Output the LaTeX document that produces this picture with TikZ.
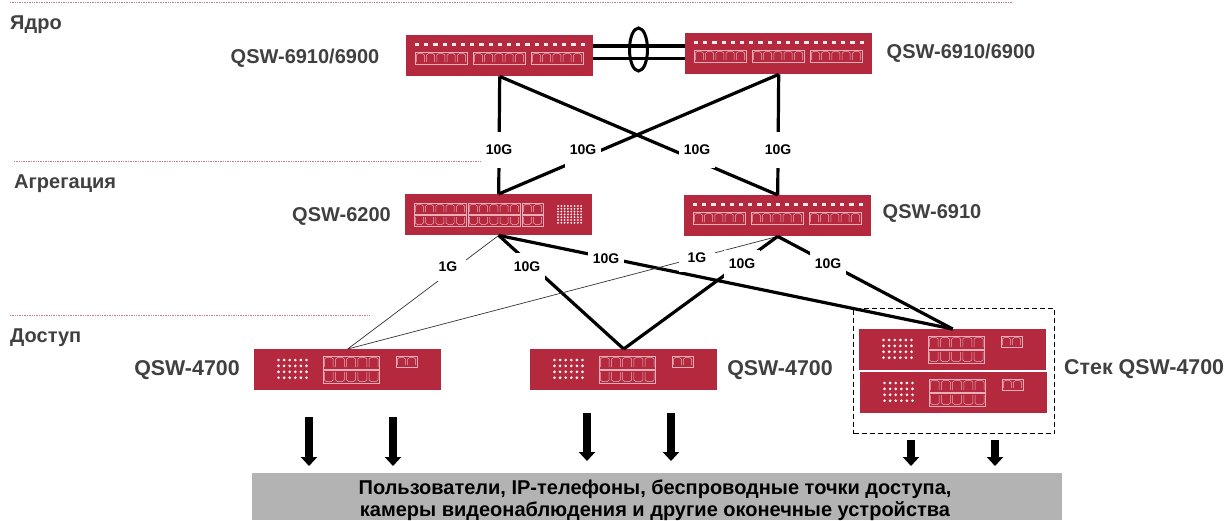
\documentclass[tikz,border=0pt]{standalone}
\usepackage{fontspec}
\setmainfont{Liberation Sans}
\usetikzlibrary{arrows.meta,shapes.geometric}
\definecolor{swred}{HTML}{B5293F}
\definecolor{portc}{HTML}{E8AEB8}
\definecolor{txt}{HTML}{404040}
\definecolor{sect}{HTML}{C0808A}
\definecolor{barc}{HTML}{B3B3B3}
\def\pw{10.3}
\tikzset{
  x=1pt,y=-1pt,
  swbox/.style={fill=swred,draw=none,minimum width=187pt,minimum height=41pt,inner sep=0pt,anchor=north west},
  heavy/.style={line width=3.2pt,black},
  thin link/.style={line width=0.7pt,black!80},
  speed/.style={fill=white,inner sep=0pt,minimum width=36pt,minimum height=36pt,font=\bfseries\fontsize{14}{16}\selectfont,text=black},
  speedlow/.style={speed,minimum height=28pt},
  model/.style={font=\bfseries\fontsize{20}{24}\selectfont,text=txt,inner sep=0pt},
  modelbig/.style={model,font=\bfseries\fontsize{21.4}{24}\selectfont},
  tier/.style={font=\bfseries\fontsize{20}{24}\selectfont,text=txt,inner sep=0pt,anchor=west},
  tierline/.style={sect,line width=0.7pt,densely dotted},
  down/.style={line width=8pt,-{Triangle[width=16pt,length=9pt]}},
  pt/.style={portc,line width=0.5pt},
  pics/portrow/.style n args={4}{code={% x, y, n, h
    \draw[pt] (#1,#2) rectangle ++(#3*\pw+0.5,#4);
    \foreach \i in {1,...,#3}{
      \pgfmathsetmacro\xx{#1+(\i-1)*\pw+1.3}
      \pgfmathsetmacro\bw{\pw-6.3}
      \draw[pt] (\xx,#2+#4-2) -- ++(0,-#4+5) -- ++(2,-1.5) -- ++(\bw,0) -- ++(2,1.5) -- ++(0,#4-5);
    }
  }},
  pics/portrowd/.style n args={4}{code={% inverted
    \draw[pt] (#1,#2) rectangle ++(#3*\pw+0.5,#4);
    \foreach \i in {1,...,#3}{
      \pgfmathsetmacro\xx{#1+(\i-1)*\pw+1.3}
      \pgfmathsetmacro\bw{\pw-6.3}
      \draw[pt] (\xx,#2+2) -- ++(0,#4-5) -- ++(2,1.5) -- ++(\bw,0) -- ++(2,-1.5) -- ++(0,-#4+5);
    }
  }},
  pics/grid/.style n args={7}{code={% x,y,cols,rows,dx,dy,r
    \foreach \i in {1,...,#3}\foreach \j in {1,...,#4}
      \fill[white] (#1+\i*#5-#5,#2+\j*#6-#6) circle (#7pt);
  }},
  pics/corefront/.style={code={
    \foreach \i in {0,...,18}
      \fill[white!90!swred] (11+\i*9.2-2,8) rectangle ++(4.2,3);
    \pic at (0,0) {portrow={9}{17}{5}{12}};
    \pic at (0,0) {portrow={67}{17}{5}{12}};
    \pic at (0,0) {portrow={125}{17}{5}{12}};
  }},
  pics/aggfront/.style={code={
    \pic at (0,0) {portrow={9}{9}{5}{11}};
    \pic at (0,0) {portrowd={9}{21}{5}{11}};
    \pic at (0,0) {portrow={63}{9}{5}{11}};
    \pic at (0,0) {portrowd={63}{21}{5}{11}};
    \pic at (0,0) {portrow={117}{9}{2}{11}};
    \pic at (0,0) {portrowd={117}{21}{2}{11}};
    \pic at (0,0) {grid={153}{12}{8}{7}{3.3}{2.8}{1}};
  }},
  pics/accfront/.style={code={
    \def\pw{11.2}
    \pic at (0,0) {grid={24.5}{11}{6}{4}{5.6}{5.9}{1.45}};
    \pic at (0,0) {portrow={69}{7}{5}{13}};
    \pic at (0,0) {portrowd={69}{21}{5}{13}};
    \def\pw{10.3}
    \pic at (0,0) {portrow={142}{7}{2}{11}};
  }},
}
\begin{document}
\begin{tikzpicture}
\useasboundingbox (0,0) rectangle (1231,520);
% tier separators
\coordinate (t1a) at (10,2); \coordinate (t1b) at (1013,2);
\coordinate (t2a) at (14,161); \coordinate (t2b) at (483,161);
\coordinate (t3a) at (10,315); \coordinate (t3b) at (369,315);
\draw[tierline] (t1a) -- (t1b);
\draw[tierline] (t2a) -- (t2b);
\draw[tierline] (t3a) -- (t3b);
\node[tier] (tc) at (10,25) {Ядро};
\node[tier] (ta) at (14,183.5) {Агрегация};
\node[tier] (td) at (10,337.5) {Доступ};
% switches
\node[swbox] (a) at (406,35) {};
\node[swbox] (b) at (685,33) {};
\node[swbox] (c) at (405,194) {};
\node[swbox] (d) at (684,195) {};
\node[swbox] (e) at (254,349) {};
\node[swbox] (f) at (530,349) {};
\node[swbox] (g) at (859,329) {};
\node[swbox] (h) at (860,372) {};
\pic at (a.north west) {corefront};
\pic at (b.north west) {corefront};
\pic at (c.north west) {aggfront};
\pic at (d.north west) {corefront};
\pic at (e.north west) {accfront};
\pic at (f.north west) {accfront};
\pic at (g.north west) {accfront};
\pic at (h.north west) {accfront};
% core links
\coordinate (l1) at (640,46);
\coordinate (l2) at (640,58.5);
\draw[heavy] (a.east |- l1) -- (b.west |- l1);
\draw[heavy] (a.east |- l2) -- (b.west |- l2);
\node[draw,line width=3pt,ellipse,minimum width=18pt,minimum height=43pt,inner sep=0pt] (lag) at (638.5,49.5) {};
% uplinks
\draw[heavy] (a.south) -- (c.north);
\draw[heavy] (b.south) -- (d.north);
\draw[heavy] (a.south) -- (d.north);
\draw[heavy] (b.south) -- (c.north);
\draw[thin link] (c.south) -- (e.north);
\draw[heavy] (c.south) -- (f.north);
\draw[heavy] (c.south) -- (g.north);
\draw[thin link] (d.south) -- (e.north);
\draw[heavy] (d.south) -- (f.north);
\draw[heavy] (d.south) -- (g.north);
% speed labels
\node[speed] (s1) at (499,150) {10G};
\node[speed] (s2) at (583,150) {10G};
\node[speed] (s3) at (697,150) {10G};
\node[speed] (s4) at (778,150) {10G};
\node[speedlow] (s5) at (448,267) {1G};
\node[speedlow] (s6) at (527,267) {10G};
\node[speedlow] (s7) at (606,259) {10G};
\node[speedlow] (s8) at (697,258) {1G};
\node[speedlow] (s9) at (742,264) {10G};
\node[speedlow] (s10) at (828,264) {10G};
% stack box
\node[draw,line width=1.2pt,dash pattern=on 5pt off 3pt,minimum width=201pt,minimum height=125pt,inner sep=0pt,anchor=north west] (stack) at (853,308) {};
% model labels
\node[model] (m1) at (305,58.5) {QSW-6910/6900};
\node[model] (m2) at (961,53.5) {QSW-6910/6900};
\node[model] (m3) at (341.5,216) {QSW-6200};
\node[model] (m4) at (932,213) {QSW-6910};
\node[modelbig] (m5) at (187,370) {QSW-4700};
\node[modelbig] (m6) at (780,370) {QSW-4700};
\node[modelbig,anchor=west] (m7) at (1064,369) {Стек QSW-4700};
% bar
\node[fill=barc,minimum width=810pt,minimum height=47pt,inner sep=0pt,anchor=north west] (bar) at (252,473) {};
\node[align=center,text=black,inner sep=0pt,font=\bfseries\fontsize{20}{22}\selectfont] (bartext) at (655,500) {Пользователи, IP-телефоны, беспроводные точки доступа,\\камеры видеонаблюдения и другие оконечные устройства};
% arrows
\foreach \n/\x/\ya/\yb in {p1/309/417/466,p2/393/417/466,p3/587/413/461,p4/671/413/461,p5/911/440/466,p6/995/440/466}{
  \coordinate (\n s) at (\x,\ya);
  \coordinate (\n e) at (\x,\yb);
  \draw[down] (\n s) -- (\n e);
}
\end{tikzpicture}
\end{document}
